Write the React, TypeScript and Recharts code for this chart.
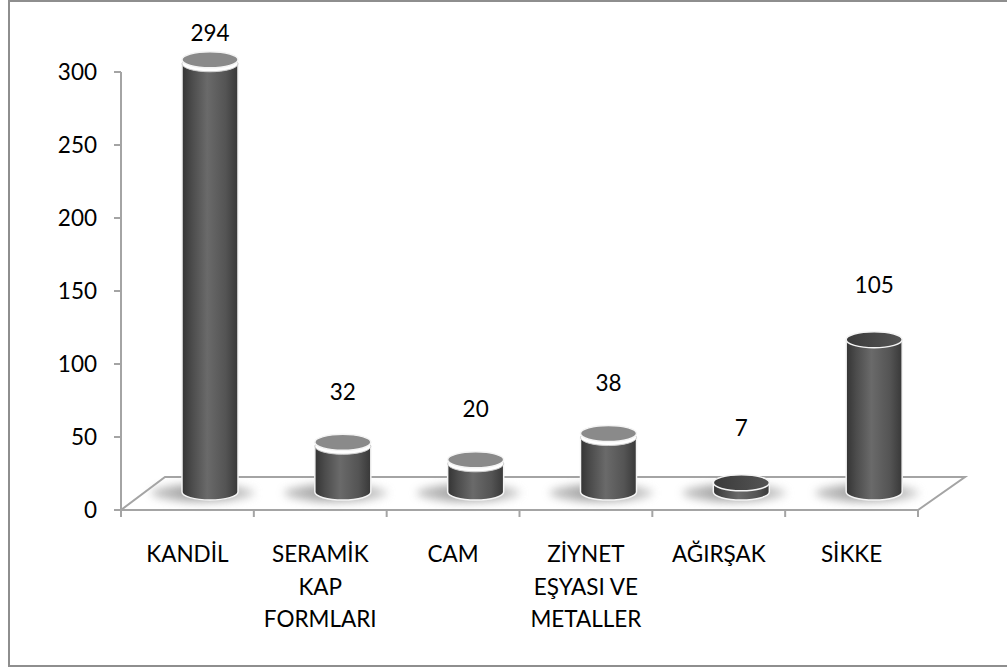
import { BarChart, Bar, XAxis, YAxis, LabelList } from 'recharts';

// data
const CATEGORIES = [
  'KANDİL',
  'SERAMİK\nKAP\nFORMLARI',
  'CAM',
  'ZİYNET\nEŞYASI VE\nMETALLER',
  'AĞIRŞAK',
  'SİKKE',
];
const COUNTS = [294, 32, 20, 38, 7, 105];
const Y_TICKS = [0, 50, 100, 150, 200, 250, 300];

// layout
const W = 1007;
const H = 667;
const PLOT = { left: 121, right: 918, top: 72, bottom: 510 };
const FLOOR_DX = 44; // full depth of the 3d floor
const FLOOR_DY = 33;
const CYL_DX = 23; // cylinders stand half way back on the floor
const CYL_DY = 18;
const Y_AXIS_W = 80;
const X_AXIS_H = 60;
const FONT = 'Lato, "Open Sans", sans-serif';
const FONT_SIZE = 22.5;
const AXIS_GRAY = '#a4a4a4';
// top faces: first four show the lighter lid, last two are dark
const LIGHT_TOP = [true, true, true, true, false, false];

const data = CATEGORIES.map((name, i) => ({ name, value: COUNTS[i] }));

function Cylinder(props: any) {
  const { x, y, width, height, index } = props;
  const rx = width / 2;
  const ry = 8;
  const cx = x + rx + CYL_DX;
  const left = cx - rx;
  const right = cx + rx;
  const bottom = y + height - CYL_DY;
  const top = y - CYL_DY - 3;
  const light = LIGHT_TOP[index];
  return (
    <g>
      <ellipse
        cx={cx - 7}
        cy={bottom + 1}
        rx={rx + 24}
        ry={9}
        fill="url(#shadowFill)"
        opacity={0.75}
        filter="url(#floorShadow)"
      />
      <path
        d={`M${left},${top + 4} L${left},${bottom} A${rx},${ry} 0 0 0 ${right},${bottom} L${right},${top + 4} Z`}
        fill="url(#cylSide)"
        stroke="#f4f4f4"
        strokeWidth={1.5}
      />
      {light ? (
        <>
          <ellipse cx={cx} cy={top + 4} rx={rx} ry={ry} fill="#ffffff" stroke="#cfcfcf" strokeWidth={1} />
          <ellipse cx={cx} cy={top} rx={rx} ry={ry} fill="#8a8a8a" stroke="#f4f4f4" strokeWidth={1.5} />
        </>
      ) : (
        <ellipse cx={cx} cy={top + 4} rx={rx} ry={ry} fill="url(#cylTopDark)" stroke="#f4f4f4" strokeWidth={1.5} />
      )}
    </g>
  );
}

function ValueLabel(props: any) {
  const { x, y, width, value } = props;
  return (
    <text
      x={x + width / 2 + CYL_DX}
      y={Math.max(y - 72, PLOT.top - 40)}
      textAnchor="middle"
      dominantBaseline="central"
      fontFamily={FONT}
      fontSize={FONT_SIZE}
      fill="#000"
    >
      {value}
    </text>
  );
}

function CategoryTick(props: any) {
  const { x, y, payload, index } = props;
  const band = (PLOT.right - PLOT.left) / CATEGORIES.length;
  const lines = String(payload.value).split('\n');
  const edge = x - band / 2;
  return (
    <g>
      <line x1={edge} y1={y} x2={edge} y2={y + 7} stroke={AXIS_GRAY} strokeWidth={2} />
      {index === CATEGORIES.length - 1 && (
        <line x1={x + band / 2} y1={y} x2={x + band / 2} y2={y + 7} stroke={AXIS_GRAY} strokeWidth={2} />
      )}
      <text x={x} y={y + 52} textAnchor="middle" fontFamily={FONT} fontSize={FONT_SIZE} fill="#000">
        {lines.map((l, i) => (
          <tspan key={i} x={x} dy={i === 0 ? 0 : 32.5}>
            {l}
          </tspan>
        ))}
      </text>
    </g>
  );
}

export default function App() {
  const floor = [
    [PLOT.left, PLOT.bottom],
    [PLOT.right, PLOT.bottom],
    [PLOT.right + FLOOR_DX + 3, PLOT.bottom - FLOOR_DY],
    [PLOT.left + FLOOR_DX, PLOT.bottom - FLOOR_DY],
  ]
    .map((p) => p.join(','))
    .join(' ');

  return (
    <div style={{ position: 'absolute', left: 0, top: 0, width: W, height: H, background: '#fff' }}>
      {/* frame, floor and shared gradients */}
      <svg width={W} height={H} style={{ position: 'absolute', left: 0, top: 0 }}>
        <defs>
          <linearGradient id="cylSide" x1="0" y1="0" x2="1" y2="0">
            <stop offset="0%" stopColor="#343434" />
            <stop offset="18%" stopColor="#4c4c4c" />
            <stop offset="45%" stopColor="#6a6a6a" />
            <stop offset="78%" stopColor="#545454" />
            <stop offset="100%" stopColor="#383838" />
          </linearGradient>
          <linearGradient id="cylTopDark" x1="0" y1="0" x2="1" y2="0">
            <stop offset="0%" stopColor="#3a3a3a" />
            <stop offset="60%" stopColor="#4a4a4a" />
            <stop offset="100%" stopColor="#555555" />
          </linearGradient>
          <linearGradient id="shadowFill" x1="0" y1="0" x2="1" y2="0">
            <stop offset="0%" stopColor="#b8b8b8" />
            <stop offset="35%" stopColor="#8a8a8a" />
            <stop offset="75%" stopColor="#9a9a9a" />
            <stop offset="100%" stopColor="#d0d0d0" />
          </linearGradient>
          <filter id="floorShadow" x="-50%" y="-150%" width="200%" height="400%">
            <feGaussianBlur stdDeviation="4" />
          </filter>
        </defs>
        <rect x={9} y={1} width={1010} height={665} fill="#fff" stroke="#8e8e8e" strokeWidth={2} />
        <polygon points={floor} fill="#fff" stroke={AXIS_GRAY} strokeWidth={2} />
      </svg>

      <div style={{ position: 'absolute', left: 0, top: 0 }}>
        <BarChart
          width={W}
          height={H}
          data={data}
          margin={{
            top: PLOT.top,
            right: W - PLOT.right,
            bottom: H - PLOT.bottom - X_AXIS_H,
            left: PLOT.left - Y_AXIS_W,
          }}
        >
          <XAxis
            dataKey="name"
            height={X_AXIS_H}
            interval={0}
            tickLine={false}
            tickSize={0}
            tickMargin={0}
            axisLine={{ stroke: AXIS_GRAY, strokeWidth: 2 }}
            tick={<CategoryTick />}
          />
          <YAxis
            width={Y_AXIS_W}
            domain={[0, 300]}
            ticks={Y_TICKS}
            tickSize={7}
            tickMargin={17}
            axisLine={{ stroke: AXIS_GRAY, strokeWidth: 2 }}
            tickLine={{ stroke: AXIS_GRAY, strokeWidth: 2 }}
            tick={{ fontFamily: FONT, fontSize: FONT_SIZE, fill: '#000' }}
          />
          <Bar dataKey="value" barSize={56} shape={<Cylinder />} isAnimationActive={false}>
            <LabelList dataKey="value" content={<ValueLabel />} />
          </Bar>
        </BarChart>
      </div>
    </div>
  );
}
